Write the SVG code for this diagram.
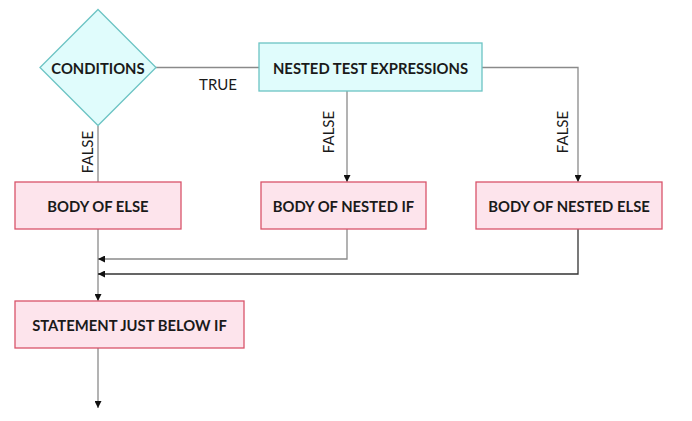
<svg xmlns="http://www.w3.org/2000/svg" width="692" height="421" viewBox="0 0 692 421">
<defs>
<marker id="ah" viewBox="0 0 10 10" refX="10" refY="5" markerWidth="7" markerHeight="7" markerUnits="userSpaceOnUse" orient="auto">
<path d="M0,0 L10,5 L0,10 Z" fill="#111"/>
</marker>
<style>
.cy{fill:#e0fcfc;stroke:#6cc4c4;stroke-width:1.3}
.pk{fill:#fde4ec;stroke:#d9536a;stroke-width:1.3}
.lb{font-family:Lato,"Noto Sans",sans-serif;font-weight:bold;font-size:14.8px;fill:#1a1a1a;text-anchor:middle;dominant-baseline:central}
.el{font-family:Lato,"Noto Sans",sans-serif;font-size:15px;fill:#1a1a1a;text-anchor:middle;dominant-baseline:central}
.ln{fill:none;stroke:#8a8a8a;stroke-width:1.3}
</style>
</defs>
<rect width="692" height="421" fill="#fff"/>
<g id="connectors">
<path class="ln" d="M156,67.5 H259"/>
<path class="ln" d="M482,67.5 H578 V182" marker-end="url(#ah)"/>
<path class="ln" d="M347,91 V182" marker-end="url(#ah)"/>
<path class="ln" d="M98,126 V182"/>
<path class="ln" d="M98,229 V301" marker-end="url(#ah)"/>
<path class="ln" d="M347,229 V259 H98" marker-end="url(#ah)"/>
<path class="ln" d="M578,229 V274 H98" marker-end="url(#ah)" style="stroke:#333"/>
<path class="ln" d="M98,348 V408" marker-end="url(#ah)"/>
<text class="el" x="218" y="84">TRUE</text>
<text class="el" transform="translate(87,152) rotate(-90)">FALSE</text>
<text class="el" transform="translate(328,132) rotate(-90)">FALSE</text>
<text class="el" transform="translate(562,132) rotate(-90)">FALSE</text>
</g>
<g id="conditions">
<polygon class="cy" points="98,9.5 156,67.5 98,125.5 40,67.5"/>
<text class="lb" x="98" y="68">CONDITIONS</text>
</g>
<g id="nested-test">
<rect class="cy" x="259" y="43" width="223" height="48"/>
<text class="lb" x="370.5" y="67.5">NESTED TEST EXPRESSIONS</text>
</g>
<g id="body-else">
<rect class="pk" x="15" y="182" width="166" height="47"/>
<text class="lb" x="98" y="206">BODY OF ELSE</text>
</g>
<g id="body-nested-if">
<rect class="pk" x="261" y="182" width="165" height="47"/>
<text class="lb" x="343.5" y="206">BODY OF NESTED IF</text>
</g>
<g id="body-nested-else">
<rect class="pk" x="476" y="182" width="186" height="47"/>
<text class="lb" x="569" y="206">BODY OF NESTED ELSE</text>
</g>
<g id="statement">
<rect class="pk" x="15" y="301" width="229" height="47"/>
<text class="lb" x="129.5" y="325">STATEMENT JUST BELOW IF</text>
</g>
</svg>
